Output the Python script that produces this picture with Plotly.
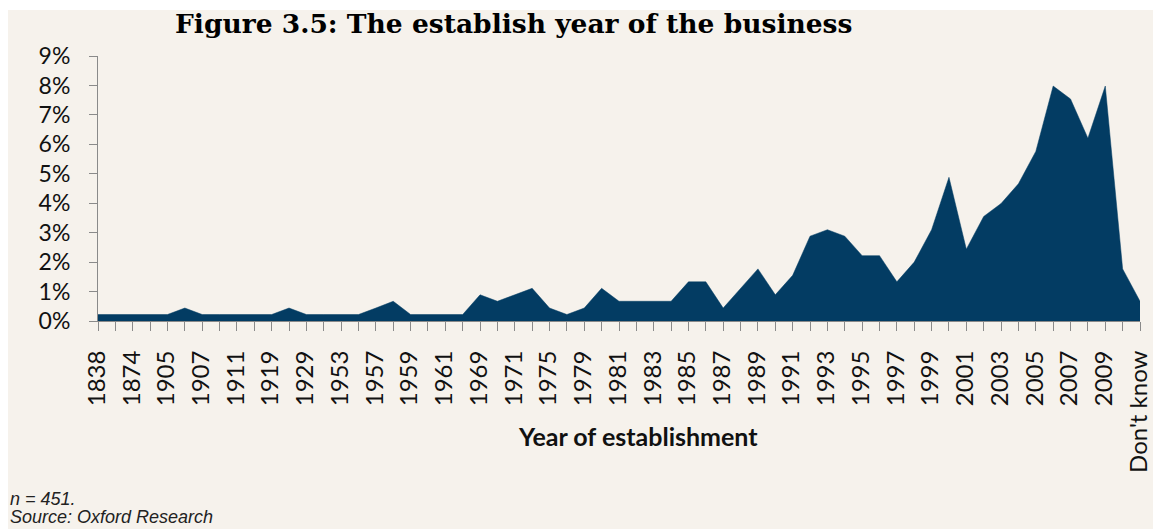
import plotly.graph_objects as go

# Share of businesses by year of establishment (percent of respondents, n = 451)
share_pct = [
    0.22, 0.22, 0.22, 0.22, 0.22, 0.44, 0.22, 0.22, 0.22, 0.22,
    0.22, 0.44, 0.22, 0.22, 0.22, 0.22, 0.44, 0.67, 0.22, 0.22,
    0.22, 0.22, 0.89, 0.67, 0.89, 1.11, 0.44, 0.22, 0.44, 1.11,
    0.67, 0.67, 0.67, 0.67, 1.33, 1.33, 0.44, 1.11, 1.77, 0.89,
    1.55, 2.88, 3.10, 2.88, 2.22, 2.22, 1.33, 2.00, 3.10, 4.88,
    2.44, 3.55, 3.99, 4.66, 5.76, 7.98, 7.54, 6.21, 7.98, 1.77,
    0.67,
]

# Category labels shown on every second tick
year_labels = [
    "1838", "1874", "1905", "1907", "1911", "1919", "1929", "1953",
    "1957", "1959", "1961", "1969", "1971", "1975", "1979", "1981",
    "1983", "1985", "1987", "1989", "1991", "1993", "1995", "1997",
    "1999", "2001", "2003", "2005", "2007", "2009", "Don't know",
]

y_tick_labels = ["0%", "1%", "2%", "3%", "4%", "5%", "6%", "7%", "8%", "9%"]

NAVY = "#033c63"
BEIGE = "#f6f2ec"
AXIS_GREY = "#8a8a8a"

W, H = 1153, 529
M_L, M_R, M_T, M_B = 98, 13, 56, 208
PLOT_W = W - M_L - M_R
PLOT_H = H - M_T - M_B


def px_x(px):
    return (px - M_L) / PLOT_W


def px_y(py):
    return (H - M_B - py) / PLOT_H


positions = list(range(len(share_pct)))
tick_text = [year_labels[i // 2] if i % 2 == 0 else "" for i in positions]

fig = go.Figure()
fig.add_trace(
    go.Scatter(
        x=positions,
        y=share_pct,
        mode="lines",
        fill="tozeroy",
        fillcolor=NAVY,
        line=dict(color=NAVY, width=0.5),
        hoverinfo="skip",
        showlegend=False,
    )
)

fig.update_xaxes(
    range=[0, len(share_pct) - 1],
    tickmode="array",
    tickvals=positions,
    ticktext=tick_text,
    tickangle=-90,
    ticks="outside",
    ticklen=9,
    tickwidth=1,
    tickcolor=AXIS_GREY,
    showline=True,
    linecolor=AXIS_GREY,
    linewidth=1,
    showgrid=False,
    zeroline=False,
    tickfont=dict(family="Lato", size=24, color="#111111"),
    ticklabelstandoff=10,
    ticklabelshift=-1,
    ticklabeloverflow="allow",
    automargin=False,
)
fig.update_yaxes(
    range=[0, 9],
    tickmode="array",
    tickvals=list(range(len(y_tick_labels))),
    ticktext=y_tick_labels,
    ticks="outside",
    ticklen=8,
    tickwidth=1,
    tickcolor=AXIS_GREY,
    showline=True,
    linecolor=AXIS_GREY,
    linewidth=1,
    showgrid=False,
    zeroline=False,
    tickfont=dict(family="Lato", size=23, color="#111111"),
    ticklabelstandoff=14,
    automargin=False,
)

annotations = [
    dict(
        text="<b>Figure 3.5: The establish year of the business</b>",
        x=px_x(513.5), y=px_y(23), xanchor="center", yanchor="middle",
        font=dict(family="DejaVu Serif", size=26.5, color="#000000"),
    ),
    dict(
        text="<b>Year of establishment</b>",
        x=px_x(638), y=px_y(436), xanchor="center", yanchor="middle",
        font=dict(family="Lato", size=25, color="#111111"),
    ),
    dict(
        text="<i>n = 451.</i>",
        x=px_x(8), y=px_y(499), xanchor="left", yanchor="middle",
        font=dict(family="Liberation Sans", size=18, color="#222222"),
    ),
    dict(
        text="<i>Source: Oxford Research</i>",
        x=px_x(8), y=px_y(517), xanchor="left", yanchor="middle",
        font=dict(family="Liberation Sans", size=18, color="#222222"),
    ),
]
for a in annotations:
    a.update(xref="paper", yref="paper", showarrow=False)

fig.update_layout(
    width=W,
    height=H,
    margin=dict(l=M_L, r=M_R, t=M_T, b=M_B, pad=0, autoexpand=False),
    paper_bgcolor="#ffffff",
    plot_bgcolor="rgba(0,0,0,0)",
    annotations=annotations,
    shapes=[
        dict(
            type="rect", xref="paper", yref="paper", layer="below",
            x0=px_x(8), x1=px_x(W + 5), y0=px_y(H + 5), y1=px_y(10),
            fillcolor=BEIGE, line=dict(width=0),
        )
    ],
)

fig.write_html("out.html")
